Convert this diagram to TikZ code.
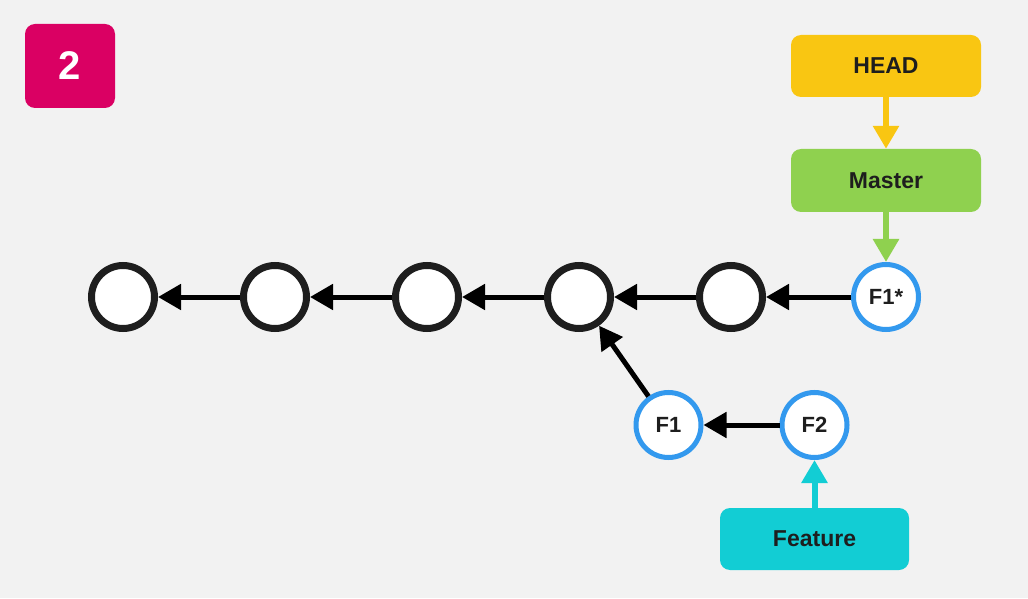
\documentclass[tikz,border=0pt]{standalone}
\usepackage{fontspec}
\setmainfont{Liberation Sans}
\usetikzlibrary{arrows.meta}
\definecolor{bg}{HTML}{F2F2F2}
\definecolor{badge}{HTML}{DA0063}
\definecolor{headc}{HTML}{F9C612}
\definecolor{masterc}{HTML}{8FD14F}
\definecolor{featc}{HTML}{12CDD4}
\definecolor{bluec}{HTML}{3399EE}
\definecolor{ink}{HTML}{1E1E1E}
\tikzset{
  commit/.style={circle,draw=ink,fill=white,line width=7pt,minimum size=63pt,inner sep=0pt},
  fcommit/.style={circle,draw=bluec,fill=white,line width=5pt,minimum size=65pt,inner sep=0pt,
     font=\bfseries\fontsize{22}{26}\selectfont,text=ink},
  label box/.style={rounded corners=10pt,minimum width=190pt,minimum height=62pt,inner sep=0pt,
     font=\bfseries\fontsize{23}{27}\selectfont,text=ink},
  conn/.style={line width=5pt,-{Triangle[length=23pt,width=25pt]}},
}
\begin{document}
\begin{tikzpicture}[x=1pt,y=1pt]
\fill[bg] (0,0) rectangle (1028,598);
\useasboundingbox (0,0) rectangle (1028,598);
\node[fill=badge,rounded corners=10pt,minimum width=90pt,minimum height=84pt,inner sep=0pt,
  text=white,font=\bfseries\fontsize{40}{46}\selectfont] (badge) at (70,532) {2};
\node[commit] (c1) at (123,301) {};
\node[commit] (c2) at (275,301) {};
\node[commit] (c3) at (427,301) {};
\node[commit] (c4) at (579,301) {};
\node[commit] (c5) at (731,301) {};
\node[fcommit] (f1s) at (886,301) {F1*};
\node[fcommit] (f1) at (668.5,173) {F1};
\node[fcommit] (f2) at (814.5,173) {F2};
\node[label box,fill=headc] (head) at (886,532) {HEAD};
\node[label box,fill=masterc,minimum height=63pt] (master) at (886,417.5) {Master};
\node[label box,fill=featc,minimum width=189pt] (feature) at (814.5,59) {Feature};
\draw[conn] (c2) -- (c1);
\draw[conn] (c3) -- (c2);
\draw[conn] (c4) -- (c3);
\draw[conn] (c5) -- (c4);
\draw[conn] (f1s) -- (c5);
\draw[conn] (f1) -- (c4);
\draw[conn] (f2) -- (f1);
\draw[conn,line width=6pt,draw=headc,fill=headc] (head) -- (master);
\draw[conn,line width=6pt,draw=masterc,fill=masterc] (master) -- (f1s);
\draw[conn,line width=6pt,draw=featc,fill=featc] (feature) -- (f2);
\end{tikzpicture}
\end{document}
